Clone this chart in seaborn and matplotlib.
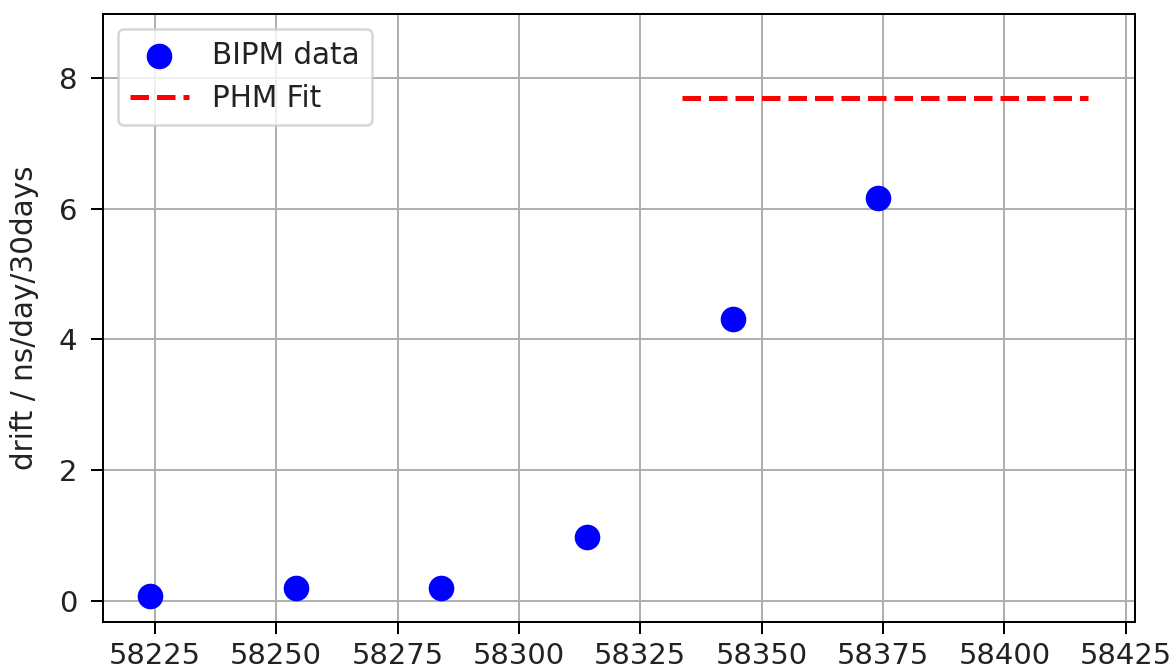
import numpy as np
import pandas as pd
import matplotlib
matplotlib.use("Agg")
import matplotlib.pyplot as plt
import seaborn as sns

# --- Data ---
mjd = [58224, 58254, 58284, 58314, 58344, 58374]
drift = [0.08, 0.20, 0.20, 0.98, 4.32, 6.17]

fit_mjd = [58333.5, 58417.2]
fit_drift = [7.69, 7.69]

sns.set_style("ticks")
plt.rcParams['font.family'] = ['DejaVu Sans']

fig, ax = plt.subplots(figsize=(6.5, 3.7278), dpi=180)
fig.subplots_adjust(left=0.088, right=0.970, top=0.979, bottom=0.0735)

data_df = pd.DataFrame({'MJD': mjd, 'drift': drift})
fit_df = pd.DataFrame({'MJD': fit_mjd, 'drift': fit_drift})

sns.scatterplot(x='MJD', y='drift', data=data_df, ax=ax, color='blue',
                s=105, linewidth=0, label='BIPM data', zorder=3)
sns.lineplot(x='MJD', y='drift', data=fit_df, ax=ax, color='red',
             linestyle='--', linewidth=2, label='PHM Fit', zorder=3)

ax.set_ylim(-0.32, 8.98)
ax.set_xticks(np.arange(58225, 58426, 25))
ax.set_yticks([0, 2, 4, 6, 8])
ax.set_xlabel('')
ax.set_ylabel('drift / ns/day/30days', fontsize=11.8, color='#222222')
ax.yaxis.set_label_coords(-0.062, 0.5)
ax.grid(True, color='#b0b0b0', linewidth=0.8)
for sp in ax.spines.values():
    sp.set_color('black')
    sp.set_linewidth(0.8)
ax.tick_params(colors='black', labelcolor='#222222', length=4.8, width=0.8, labelsize=11.6)
ax.tick_params(axis='y', pad=5.5)
leg = ax.legend(loc='upper left', fontsize=11.8)
for t in leg.get_texts():
    t.set_color('#222222')

plt.savefig('out.png', dpi=180)
